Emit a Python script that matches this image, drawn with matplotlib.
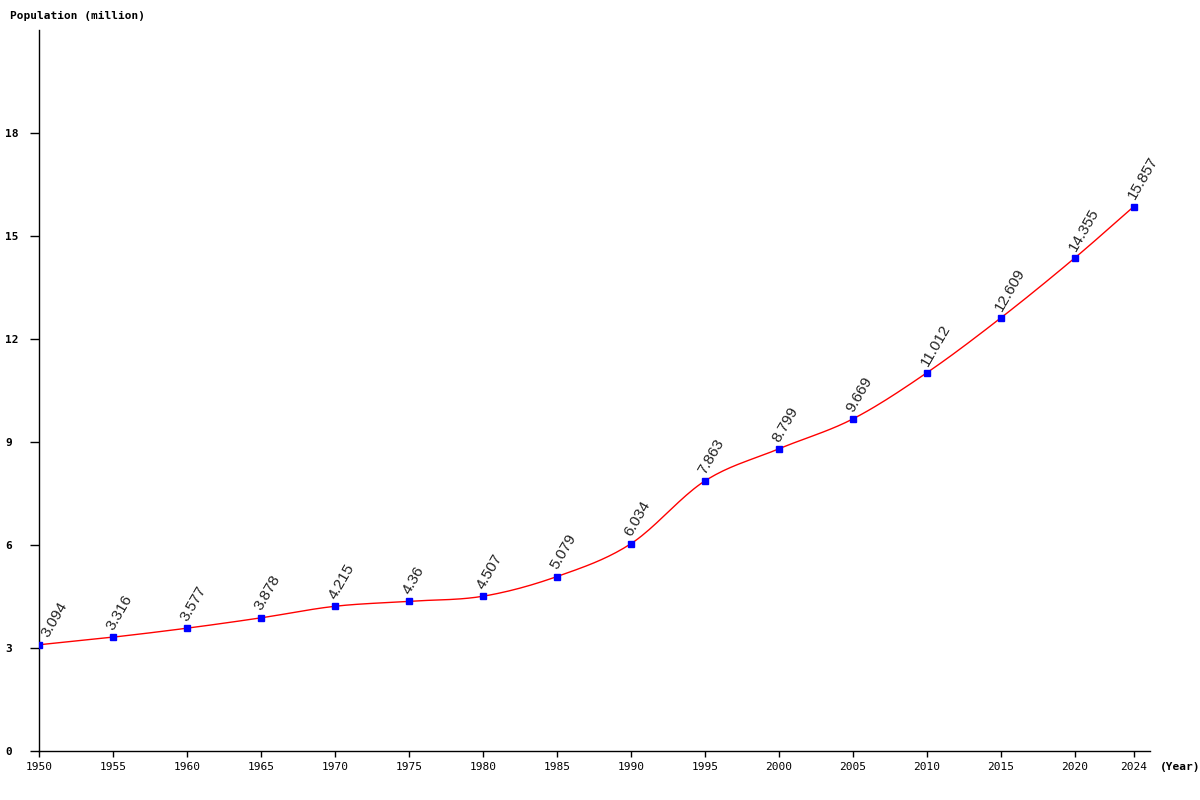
import numpy as np
import matplotlib
matplotlib.use("Agg")
import matplotlib.pyplot as plt

years = [1950, 1955, 1960, 1965, 1970, 1975, 1980, 1985, 1990, 1995, 2000, 2005, 2010, 2015, 2020, 2024]
population = [3.094, 3.316, 3.577, 3.878, 4.215, 4.36, 4.507, 5.079, 6.034, 7.863, 8.799, 9.669, 11.012, 12.609, 14.355, 15.857]
labels = ["3.094", "3.316", "3.577", "3.878", "4.215", "4.36", "4.507", "5.079", "6.034", "7.863", "8.799", "9.669", "11.012", "12.609", "14.355", "15.857"]
yticks = [0, 3, 6, 9, 12, 15, 18]


def smooth(x, y, n=20):
    x = np.asarray(x, float)
    y = np.asarray(y, float)
    m = np.zeros_like(y)
    m[1:-1] = (y[2:] - y[:-2]) / (x[2:] - x[:-2])
    m[0] = (y[1] - y[0]) / (x[1] - x[0])
    m[-1] = (y[-1] - y[-2]) / (x[-1] - x[-2])
    xs, ys = [], []
    for i in range(len(x) - 1):
        h = x[i + 1] - x[i]
        t = np.linspace(0, 1, n, endpoint=False)
        h00 = 2 * t**3 - 3 * t**2 + 1
        h10 = t**3 - 2 * t**2 + t
        h01 = -2 * t**3 + 3 * t**2
        h11 = t**3 - t**2
        xs.append(x[i] + t * h)
        ys.append(h00 * y[i] + h10 * h * m[i] + h01 * y[i + 1] + h11 * h * m[i + 1])
    xs.append([x[-1]])
    ys.append([y[-1]])
    return np.concatenate(xs), np.concatenate(ys)


fig = plt.figure(figsize=(12, 8), dpi=100)
ax = fig.add_axes([39 / 1200, 49 / 800, (1150 - 39) / 1200, (751 - 30) / 800])

sx, sy = smooth(years, population)
ax.plot(sx, sy, color="red", lw=1.0, zorder=2)
ax.plot(years, population, ls="none", marker="s", ms=4.5, color="blue", zorder=3)

for i, (x, y, lab) in enumerate(zip(years, population, labels)):
    dx = 9 if i == 0 else 2.5
    ax.annotate(lab, (x, y), xytext=(dx, 3.5), textcoords="offset points",
                rotation=60, rotation_mode="anchor", ha="left", va="bottom",
                fontsize=11, family="Liberation Sans", color="#222222")

ax.set_xlim(1950, 2025.1)
ax.set_ylim(0, 21)
ax.set_xticks(years)
ax.set_xticklabels([str(y) for y in years], family="DejaVu Sans Mono", fontsize=8)
ax.set_yticks(yticks)
ax.set_yticklabels([str(v) for v in yticks], family="DejaVu Sans Mono", fontsize=8, fontweight="bold")
ax.tick_params(axis="y", length=6.5, width=1, pad=18)
ax.tick_params(axis="x", length=4, width=1, pad=4)
for lab in ax.get_yticklabels():
    lab.set_horizontalalignment("left")
for s in ["top", "right"]:
    ax.spines[s].set_visible(False)
ax.spines["left"].set_linewidth(1)
ax.spines["bottom"].set_linewidth(1)

fig.text(10 / 1200, 1 - 16 / 800, "Population (million)", family="DejaVu Sans Mono",
         fontsize=8, fontweight="bold", va="center", ha="left")
fig.text(1160 / 1200, 1 - 767 / 800, "(Year)", family="DejaVu Sans Mono",
         fontsize=8, fontweight="bold", va="center", ha="left")

fig.savefig("out.png", dpi=100)
